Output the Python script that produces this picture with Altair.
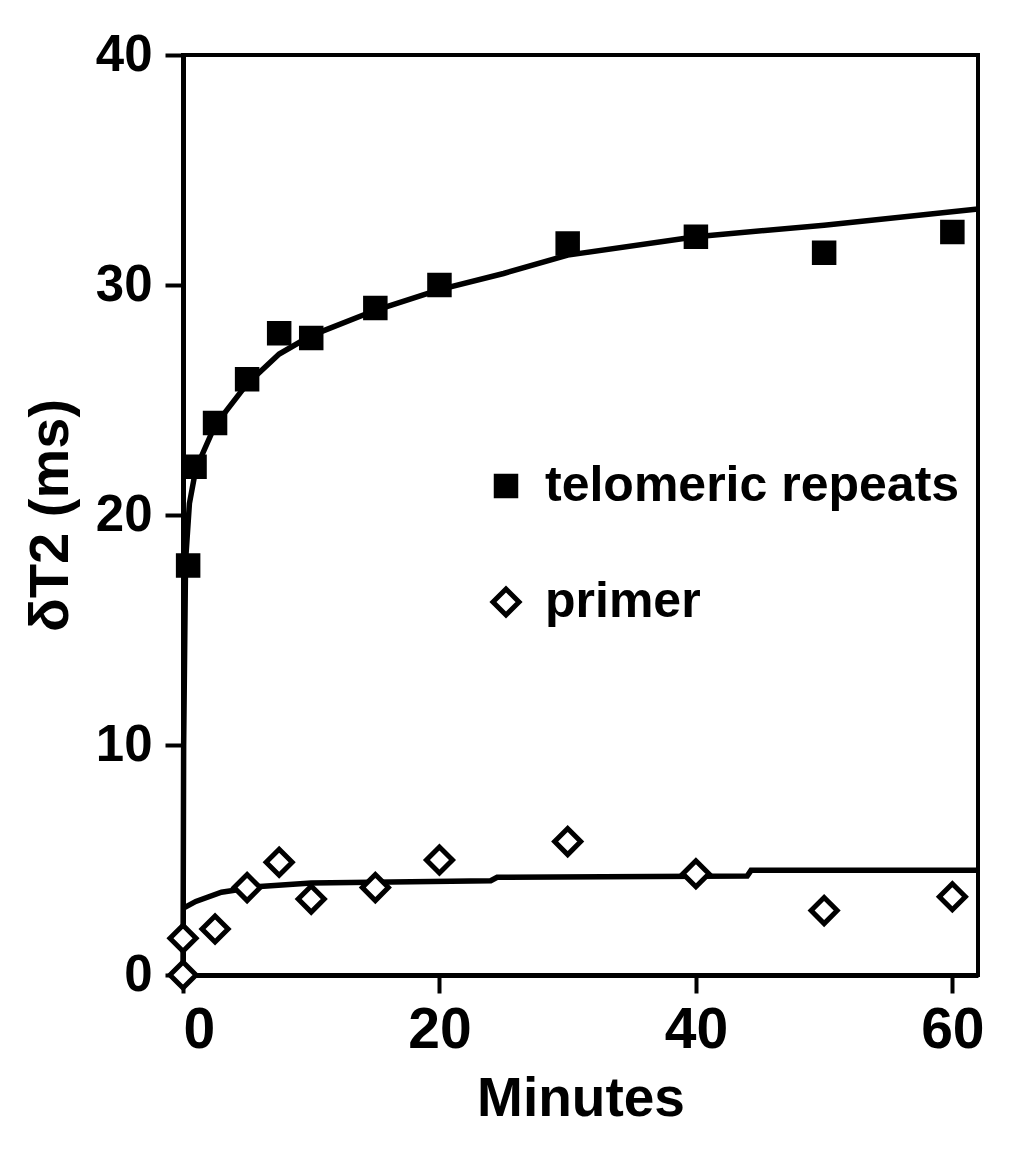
import altair as alt
import pandas as pd

# measured points
telo_t = [0.4, 0.9, 2.5, 5, 7.5, 10, 15, 20, 30, 40, 50, 60]
telo_v = [17.8, 22.1, 24.0, 25.9, 27.9, 27.7, 29.0, 30.0, 31.8, 32.1, 31.4, 32.3]
primer_t = [0, 0, 2.5, 5, 7.5, 10, 15, 20, 30, 40, 50, 60]
primer_v = [0, 1.6, 2.0, 3.8, 4.9, 3.3, 3.8, 5.0, 5.8, 4.4, 2.8, 3.4]

# fitted curves
telo_fit_t = [0, 0.05, 0.2, 0.5, 1, 2.5, 5, 7.5, 10, 15, 20, 25, 30, 40, 50, 62]
telo_fit_v = [0, 10, 18, 20.5, 22, 23.9, 25.7, 27.0, 27.8, 28.9, 29.8, 30.5, 31.3, 32.1, 32.6, 33.3]
primer_fit_t = [0, 1, 3, 6, 10, 24, 24.5, 44, 44.3, 62]
primer_fit_v = [2.9, 3.2, 3.6, 3.85, 4.0, 4.1, 4.25, 4.3, 4.55, 4.55]

series = ["telomeric repeats", "primer"]

pts = pd.DataFrame({
    "t": telo_t + primer_t,
    "v": telo_v + primer_v,
    "series": [series[0]] * len(telo_t) + [series[1]] * len(primer_t),
})
fit = pd.DataFrame({
    "t": telo_fit_t + primer_fit_t,
    "v": telo_fit_v + primer_fit_v,
    "series": [series[0]] * len(telo_fit_t) + [series[1]] * len(primer_fit_t),
})

FONT = "Liberation Sans"

x = alt.X("t:Q", scale=alt.Scale(domain=[0, 62], nice=False, zero=False),
          axis=alt.Axis(title="Minutes", values=[0, 20, 40, 60], grid=False,
                        labelFontSize=57, titleFontSize=55, labelPadding=9,
                        titlePadding=14, tickSize=18))
y = alt.Y("v:Q", scale=alt.Scale(domain=[0, 40], nice=False),
          axis=alt.Axis(title="δT2 (ms)", values=[0, 10, 20, 30, 40], grid=False,
                        labelFontSize=51, titleFontSize=56, labelPadding=13,
                        titlePadding=16, tickSize=18))

leg = alt.Legend(title=None, orient="none", legendX=298, legendY=406,
                 labelFont=FONT, labelFontSize=50, labelFontWeight="bold",
                 labelColor="black", labelOffset=14, rowPadding=66, padding=0,
                 labelLimit=0, symbolStrokeWidth=5, symbolOpacity=1)

lines = alt.Chart(fit).mark_line(color="black", strokeWidth=5.5).encode(
    x=x, y=y, detail="series:N"
)

points = alt.Chart(pts).mark_point(filled=True, strokeWidth=5, opacity=1).encode(
    x=x, y=y,
    shape=alt.Shape("series:N", scale=alt.Scale(domain=series, range=["square", "diamond"]), legend=leg),
    fill=alt.Fill("series:N", scale=alt.Scale(domain=series, range=["black", "white"]), legend=leg),
    stroke=alt.Stroke("series:N", scale=alt.Scale(domain=series, range=["black", "black"]), legend=leg),
    size=alt.Size("series:N", scale=alt.Scale(domain=series, range=[380, 680]), legend=leg),
)

chart = alt.layer(lines, points).properties(
    width=795, height=920,
    background="white",
    autosize=alt.AutoSizeParams(type="none"),
    padding={"left": 175, "top": 47, "right": 38, "bottom": 174},
).configure_view(
    stroke="black", strokeWidth=4
).configure_axis(
    domainColor="black", domainWidth=5, tickColor="black", tickWidth=4,
    labelColor="black", titleColor="black", labelFont=FONT, titleFont=FONT,
    labelFontWeight="bold", titleFontWeight="bold",
)

chart.save("out.html", embed_options={"renderer": "svg", "actions": False})
